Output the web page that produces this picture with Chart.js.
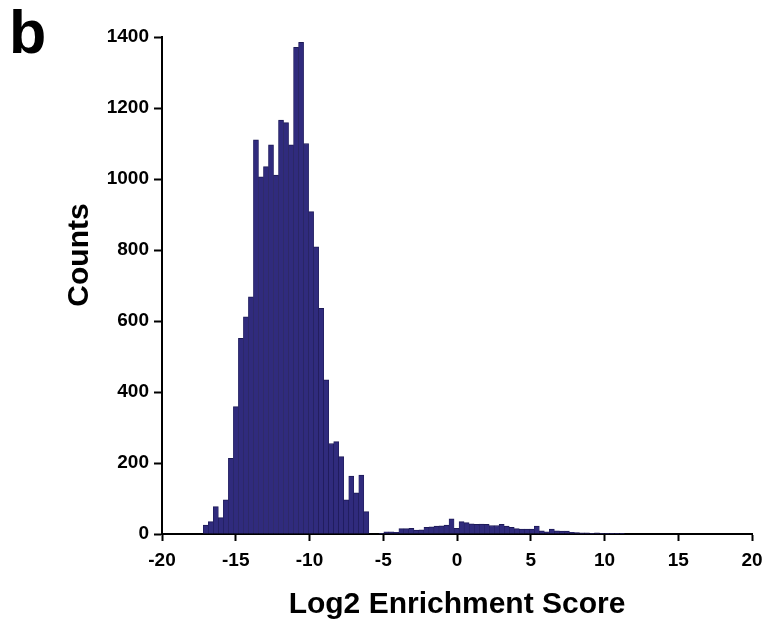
<!DOCTYPE html>
<html><head><meta charset="utf-8">
<script src="https://cdn.jsdelivr.net/npm/chart.js@4/dist/chart.umd.min.js"></script>
<style>html,body{margin:0;padding:0;background:#fff;}#wrap{position:relative;width:765px;height:625px;}</style>
</head><body><div id="wrap"><canvas id="c" width="765" height="625"></canvas></div>
<script>
// Histogram bin centres (Log2 Enrichment Score)
const binCenters = [
  -17.03,-16.69,-16.35,-16.01,-15.67,-15.33,-14.99,-14.65,-14.31,-13.97,
  -13.63,-13.29,-12.95,-12.61,-12.27,-11.93,-11.59,-11.25,-10.91,-10.57,
  -10.23,-9.89,-9.55,-9.21,-8.87,-8.53,-8.19,-7.85,-7.51,-7.17,
  -6.83,-6.49,-6.15,-5.81,-5.47,-5.13,-4.79,-4.45,-4.11,-3.77,
  -3.43,-3.09,-2.75,-2.41,-2.07,-1.73,-1.39,-1.05,-0.71,-0.37,
  -0.03,0.31,0.65,0.99,1.33,1.67,2.01,2.35,2.69,3.03,
  3.37,3.71,4.05,4.39,4.73,5.07,5.41,5.75,6.09,6.43,
  6.77,7.11,7.45,7.79,8.13,8.47,8.81,9.15,9.49,9.83,
  10.17,10.51,10.85,11.19
];
// Counts per bin
const counts = [
  25,35,77,46,96,213,359,551,612,668,
  1110,1006,1035,1096,1011,1166,1159,1096,1371,1385,
  1100,908,809,636,434,255,260,218,96,163,
  116,166,63,0,0,2,6,6,5,15,
  15,16,11,12,19,20,22,23,25,43,
  16,35,32,29,27,28,27,24,24,27,
  22,19,15,14,14,14,22,9,6,14,
  9,8,8,5,4,3,3,2,3,2,
  2,1,2,1
];
const xTickValues = [-20,-15,-10,-5,0,5,10,15,20];
const yTickValues = [0,200,400,600,800,1000,1200,1400];

const FONT = '"Liberation Sans", Arial, Helvetica, sans-serif';

const extraText = {
  id: 'extraText',
  afterDraw(chart) {
    const ctx = chart.ctx;
    ctx.save();
    ctx.fillStyle = '#000';
    ctx.font = 'bold 61px ' + FONT;
    ctx.textAlign = 'left';
    ctx.textBaseline = 'alphabetic';
    ctx.fillText('b', 9, 53);
    ctx.translate(80, 255);
    ctx.rotate(-Math.PI / 2);
    ctx.font = 'bold 30px ' + FONT;
    ctx.textAlign = 'center';
    ctx.textBaseline = 'middle';
    ctx.fillText('Counts', 0, 0);
    ctx.restore();
  }
};

new Chart(document.getElementById('c'), {
  type: 'bar',
  data: {
    datasets: [{
      data: binCenters.map((x, i) => ({ x: x, y: counts[i] })),
      backgroundColor: '#302b7d',
      borderColor: '#1d1a56',
      borderWidth: { top: 1, left: 0.6, right: 0.6, bottom: 0 },
      borderSkipped: false,
      barPercentage: 1,
      categoryPercentage: 1
    }]
  },
  options: {
    responsive: false,
    animation: false,
    devicePixelRatio: 1,
    layout: { padding: { top: 37, right: 13, left: 0, bottom: 0 } },
    plugins: { legend: { display: false }, tooltip: { enabled: false } },
    scales: {
      x: {
        type: 'linear', min: -20, max: 20, offset: false,
        afterBuildTicks(s) { s.ticks = xTickValues.map(v => ({ value: v })); },
        grid: { display: true, drawOnChartArea: false, drawTicks: true, tickLength: 7, tickWidth: 2, tickColor: '#000', offset: false },
        border: { display: true, color: '#000', width: 2 },
        ticks: { color: '#000', font: { family: FONT, size: 19, weight: 'bold' }, padding: 8, maxRotation: 0, autoSkip: false, callback: v => String(v) },
        title: { display: true, text: 'Log2 Enrichment Score', color: '#000', font: { family: FONT, size: 30, weight: 'bold' }, padding: { top: 0, bottom: 2 } },
        afterFit(s) { s.height = 91; s.paddingRight = 0; s.paddingLeft = 0; }
      },
      y: {
        min: 0, max: 1400,
        afterBuildTicks(s) { s.ticks = yTickValues.map(v => ({ value: v })); },
        grid: { display: true, drawOnChartArea: false, drawTicks: true, tickLength: 8, tickWidth: 2, tickColor: '#000' },
        border: { display: true, color: '#000', width: 2 },
        ticks: { color: '#000', font: { family: FONT, size: 19, weight: 'bold' }, padding: 5, callback: v => String(v) },
        title: { display: false },
        afterFit(s) { s.width = 162; s.paddingTop = 0; s.paddingBottom = 0; }
      }
    }
  },
  plugins: [extraText]
});
</script>
</body></html>
